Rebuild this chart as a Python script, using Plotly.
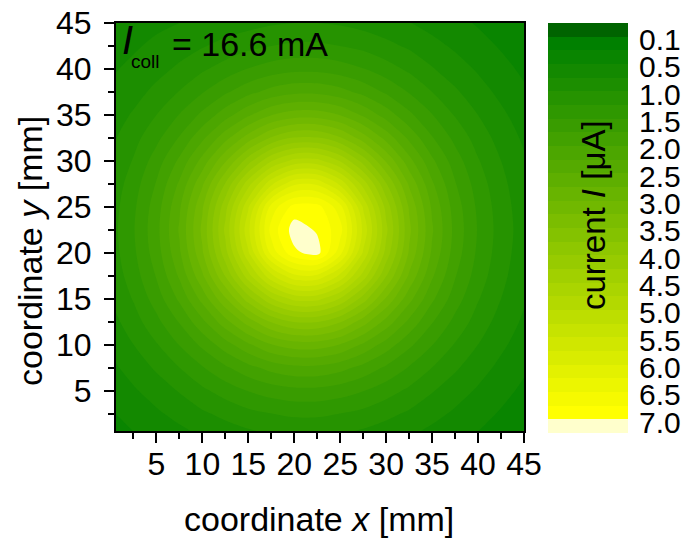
import numpy as np
import plotly.graph_objects as go

# Scan positions of the collector [mm]
x_mm = [0, 2.5, 5, 7.5, 10, 12.5, 15, 17.5, 20, 22.5, 25, 27.5, 30, 32.5, 35, 37.5, 40, 42.5, 45]
y_mm = [0, 2.5, 5, 7.5, 10, 12.5, 15, 17.5, 20, 22.5, 25, 27.5, 30, 32.5, 35, 37.5, 40, 42.5, 45]

# Measured current [uA]; one row per y position, columns follow x_mm
current_uA = [
    [0.40, 0.48, 0.57, 0.66, 0.76, 0.84, 0.91, 0.97, 1.00, 1.00, 0.97, 0.91, 0.84, 0.76, 0.66, 0.57, 0.48, 0.40, 0.34],
    [0.48, 0.59, 0.71, 0.83, 0.96, 1.07, 1.18, 1.25, 1.30, 1.30, 1.25, 1.18, 1.07, 0.96, 0.83, 0.71, 0.59, 0.48, 0.40],
    [0.58, 0.72, 0.86, 1.02, 1.20, 1.36, 1.51, 1.62, 1.68, 1.68, 1.62, 1.51, 1.36, 1.20, 1.02, 0.86, 0.72, 0.58, 0.46],
    [0.69, 0.85, 1.04, 1.25, 1.48, 1.71, 1.92, 2.09, 2.19, 2.19, 2.09, 1.92, 1.71, 1.48, 1.25, 1.04, 0.85, 0.69, 0.54],
    [0.80, 1.00, 1.23, 1.51, 1.81, 2.14, 2.46, 2.74, 2.88, 2.88, 2.74, 2.46, 2.14, 1.81, 1.51, 1.23, 1.00, 0.80, 0.63],
    [0.90, 1.14, 1.43, 1.77, 2.19, 2.66, 3.12, 3.53, 3.77, 3.77, 3.53, 3.12, 2.66, 2.19, 1.77, 1.43, 1.14, 0.90, 0.71],
    [1.00, 1.27, 1.62, 2.05, 2.59, 3.22, 3.89, 4.48, 4.83, 4.83, 4.48, 3.89, 3.22, 2.59, 2.05, 1.62, 1.27, 1.00, 0.78],
    [1.07, 1.38, 1.77, 2.29, 2.96, 3.77, 4.65, 5.44, 5.95, 5.95, 5.44, 4.65, 3.77, 2.96, 2.29, 1.77, 1.38, 1.07, 0.83],
    [1.12, 1.45, 1.88, 2.46, 3.22, 4.16, 5.22, 6.35, 6.95, 7.10, 6.35, 5.22, 4.16, 3.22, 2.46, 1.88, 1.45, 1.12, 0.86],
    [1.14, 1.48, 1.92, 2.53, 3.31, 4.31, 5.44, 6.60, 7.12, 6.97, 6.60, 5.44, 4.31, 3.31, 2.53, 1.92, 1.48, 1.14, 0.88],
    [1.12, 1.45, 1.88, 2.46, 3.22, 4.16, 5.22, 6.35, 6.85, 6.85, 6.35, 5.22, 4.16, 3.22, 2.46, 1.88, 1.45, 1.12, 0.86],
    [1.07, 1.38, 1.77, 2.29, 2.96, 3.77, 4.65, 5.44, 5.95, 5.95, 5.44, 4.65, 3.77, 2.96, 2.29, 1.77, 1.38, 1.07, 0.83],
    [1.00, 1.27, 1.62, 2.05, 2.59, 3.22, 3.89, 4.48, 4.83, 4.83, 4.48, 3.89, 3.22, 2.59, 2.05, 1.62, 1.27, 1.00, 0.78],
    [0.94, 1.16, 1.43, 1.77, 2.19, 2.66, 3.12, 3.53, 3.77, 3.77, 3.53, 3.12, 2.66, 2.19, 1.77, 1.43, 1.14, 0.90, 0.71],
    [0.86, 1.03, 1.25, 1.51, 1.81, 2.14, 2.46, 2.74, 2.88, 2.88, 2.74, 2.46, 2.14, 1.81, 1.51, 1.23, 1.00, 0.80, 0.63],
    [0.78, 0.90, 1.07, 1.26, 1.48, 1.71, 1.92, 2.09, 2.19, 2.19, 2.09, 1.92, 1.71, 1.48, 1.25, 1.04, 0.85, 0.69, 0.54],
    [0.72, 0.80, 0.91, 1.05, 1.21, 1.36, 1.51, 1.62, 1.68, 1.68, 1.62, 1.51, 1.36, 1.20, 1.02, 0.86, 0.72, 0.58, 0.46],
    [0.66, 0.72, 0.80, 0.88, 0.98, 1.08, 1.18, 1.25, 1.30, 1.30, 1.25, 1.18, 1.07, 0.96, 0.83, 0.71, 0.59, 0.48, 0.40],
    [0.62, 0.66, 0.70, 0.75, 0.80, 0.86, 0.91, 0.97, 1.00, 1.00, 0.97, 0.91, 0.84, 0.76, 0.66, 0.57, 0.48, 0.40, 0.34],
]

# Contour levels [uA] and the labels written next to the colour bar
levels_uA = [0.1, 0.3, 0.5, 0.75, 1.0, 1.25, 1.5, 1.75, 2.0, 2.25, 2.5, 2.75, 3.0, 3.25,
             3.5, 3.75, 4.0, 4.25, 4.5, 4.75, 5.0, 5.25, 5.5, 5.75, 6.0, 6.25, 6.5, 6.75, 7.0]
level_labels = ["0.1", "0.5", "1.0", "1.5", "2.0", "2.5", "3.0", "3.5",
                "4.0", "4.5", "5.0", "5.5", "6.0", "6.5", "7.0"]
x_ticks = [5, 10, 15, 20, 25, 30, 35, 40, 45]
y_ticks = [5, 10, 15, 20, 25, 30, 35, 40, 45]

FONT = "Liberation Sans, Arial, sans-serif"
W, H = 686, 538

# ---- map currents onto equally spaced level indices (non-uniform levels) ----
lv = np.asarray(levels_uA, dtype=float)
n_lev = len(lv)
xp = np.concatenate([[lv[0] - (lv[1] - lv[0])], lv, [lv[-1] + (lv[-1] - lv[-2])]])
fp = np.arange(-1, n_lev + 1, dtype=float)
z_band = np.interp(np.asarray(current_uA, dtype=float), xp, fp)

# ---- one colour per band: dark green below, green->yellow, pale above ----
inner = n_lev - 1
band_colors = ["rgb(0,100,0)"]
for k in range(inner):
    f = k / (inner - 1)
    band_colors.append(f"rgb({round(255 * f)},{round(128 + 127 * f)},0)")
band_colors.append("rgb(255,255,204)")
n_col = len(band_colors)

colorscale = []
for j, c in enumerate(band_colors):
    lo = max(0.0, (j - 0.5) / (n_col - 1))
    hi = min(1.0, (j + 0.5) / (n_col - 1))
    colorscale += [[lo, c], [hi, c]]

fig = go.Figure()

fig.add_trace(go.Contour(
    x=x_mm, y=y_mm, z=z_band,
    colorscale=colorscale, autocontour=False,
    contours=dict(start=0, end=n_lev - 1, size=1, coloring="fill", showlines=False),
    line=dict(width=0, smoothing=0.9),
    showscale=False, hoverinfo="skip",
    xaxis="x", yaxis="y",
))

# colour bar drawn as a one-column heatmap, lowest level on top
fig.add_trace(go.Heatmap(
    z=[[j] for j in range(n_col)], x=[0], y=list(range(n_col)),
    colorscale=colorscale, zmin=0, zmax=n_col - 1,
    showscale=False, hoverinfo="skip",
    xaxis="x2", yaxis="y2",
))

def px_x(p):
    return p / W

def px_y(p):
    return 1 - p / H

axis_common = dict(
    automargin=False,
    showgrid=False, zeroline=False,
    showline=True, linecolor="black", linewidth=2, mirror=True,
    ticks="outside", ticklen=10, tickwidth=2, tickcolor="black",
    tickfont=dict(family=FONT, size=32, color="black"),
    minor=dict(ticks="outside", ticklen=6, tickwidth=2, tickcolor="black",
               tick0=0, dtick=2.5),
)

fig.update_layout(
    width=W, height=H,
    margin=dict(l=0, r=0, t=0, b=0, autoexpand=False),
    paper_bgcolor="white", plot_bgcolor="white",
    font=dict(family=FONT, color="black"),
    showlegend=False,
    xaxis=dict(domain=[px_x(116), px_x(524)], range=[0.6, 45],
               tickmode="array", tickvals=x_ticks, ticklabelstandoff=-6,
               **axis_common),
    yaxis=dict(domain=[px_y(431), px_y(23)], range=[0.6, 45],
               tickmode="array", tickvals=y_ticks, ticklabelstandoff=6,
               **axis_common),
    xaxis2=dict(domain=[px_x(548), px_x(628)], range=[-0.5, 0.5], visible=False,
                anchor="y2", automargin=False),
    yaxis2=dict(domain=[px_y(433), px_y(23)], range=[n_col - 0.5, -0.5],
                anchor="x2", side="right", showgrid=False, zeroline=False,
                showline=False, ticks="", automargin=False,
                tickmode="array",
                tickvals=[0.7 + 2 * i for i in range(len(level_labels))],
                ticktext=level_labels,
                tickfont=dict(family=FONT, size=30, color="black"),
                ticklabelstandoff=10),
)

annotations = [
    # axis titles
    dict(text="coordinate <i>x</i> [mm]", x=px_x(319), y=px_y(519),
         font=dict(size=34)),
    dict(text="coordinate <i>y</i> [mm]", x=px_x(30), y=px_y(251),
         font=dict(size=34), textangle=-90),
    # colour bar title
    dict(text="current <i>I</i> [\u03bcA]", x=px_x(593), y=px_y(215),
         font=dict(size=33), textangle=-90),
    # collector current label
    dict(text="<i>I</i>", x=px_x(120), y=px_y(40.5), xanchor="left",
         font=dict(size=40)),
    dict(text="coll", x=px_x(129), y=px_y(61.5), xanchor="left",
         font=dict(size=19)),
    dict(text="= 16.6 mA", x=px_x(170), y=px_y(44.2), xanchor="left",
         font=dict(size=34)),
]
for a in annotations:
    a.setdefault("xanchor", "center")
    a.setdefault("yanchor", "middle")
    a.update(xref="paper", yref="paper", showarrow=False)
    a["font"] = dict(family=FONT, color="black", **a["font"])
fig.update_layout(annotations=annotations)

fig.write_html("out.html")
